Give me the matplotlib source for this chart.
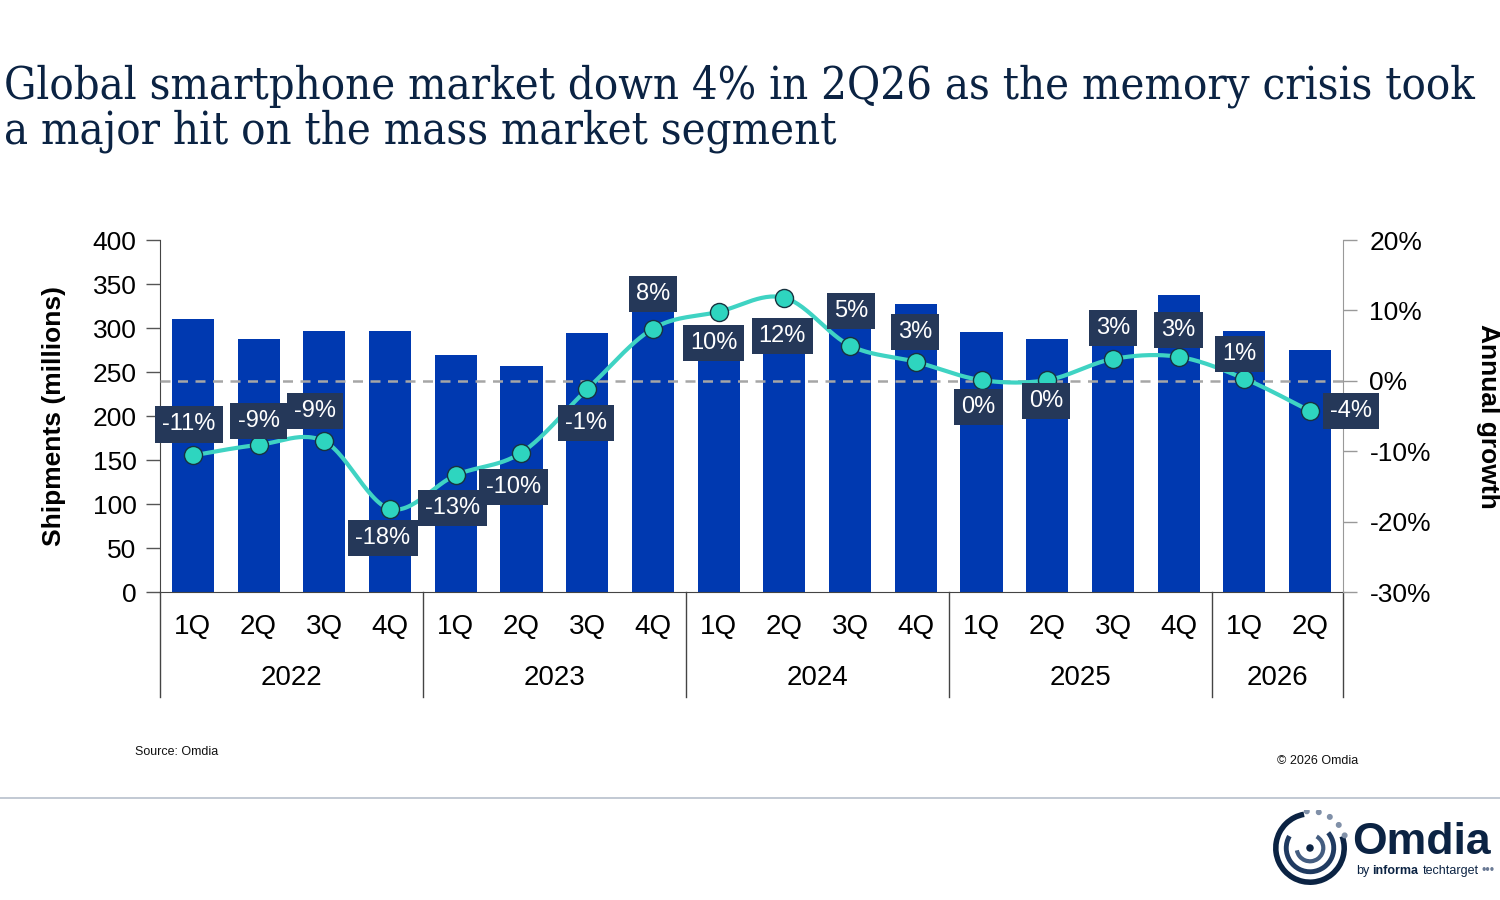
import numpy as np
import matplotlib
matplotlib.use("Agg")
import matplotlib.pyplot as plt
from matplotlib.patches import Arc, Circle
import matplotlib.transforms as mtransforms

# ---------------- data ----------------
quarters = ["1Q", "2Q", "3Q", "4Q"] * 4 + ["1Q", "2Q"]
years = ["2022", "2023", "2024", "2025", "2026"]
year_sizes = [4, 4, 4, 4, 2]
shipments = [310, 287, 297, 297, 269, 257, 294, 322, 295, 289, 310, 327, 295, 287, 316, 338, 297, 275]
growth = [-10.6, -9.1, -8.6, -18.2, -13.4, -10.2, -1.2, 7.4, 9.8, 11.8, 5.0, 2.7, 0.1, 0.1, 3.1, 3.4, 0.3, -4.3]
growth_labels = ["-11%", "-9%", "-9%", "-18%", "-13%", "-10%", "-1%", "8%", "10%", "12%",
                 "5%", "3%", "0%", "0%", "3%", "3%", "1%", "-4%"]

title = ("Global smartphone market down 4% in 2Q26 as the memory crisis took\n"
         "a major hit on the mass market segment")

# label offsets in pixels (style / placement)
label_offsets = [(-4, 31), (0, 24), (-9, 30), (-7, -29), (-3, -33), (-8, -34), (-1, -34), (0, 35),
                 (-5, -31), (-2, -38), (1, 35), (-1, 30), (-3, -27), (-1, -21), (0, 31), (0, 27),
                 (-5, 25), (41, 0)]

NAVY = "#0b2343"
BAR = "#0039b0"
LINE = "#3fd3c3"
BOX = "#253859"
SANS = ["Liberation Sans", "DejaVu Sans"]

fig = plt.figure(figsize=(15, 9), dpi=100)
fig.patch.set_facecolor("white")

L, R, T, B = 160, 1343, 240, 592
ax = fig.add_axes([L / 1500, 1 - B / 900, (R - L) / 1500, (B - T) / 900])
x = np.arange(len(shipments))
ax.bar(x, shipments, width=0.64, color=BAR, zorder=2)
ax.set_xlim(-0.5, len(shipments) - 0.5)
ax.set_ylim(0, 400)
ax.set_yticks(np.arange(0, 401, 50))
ax.tick_params(axis="y", length=10, width=1, color="#555555", labelsize=19, pad=7)
for lab in ax.get_yticklabels():
    lab.set_fontfamily(SANS)
ax.set_xticks(x)
ax.set_xticklabels(quarters, fontsize=20, fontfamily=SANS)
ax.tick_params(axis="x", length=0, pad=16)
for s in ["top", "right"]:
    ax.spines[s].set_visible(False)
ax.spines["left"].set_color("#444444")
ax.spines["bottom"].set_color("#444444")
ax.set_ylabel("Shipments (millions)", fontsize=19, fontweight="bold", fontfamily=SANS, labelpad=19)

# year labels and separators
trans = mtransforms.blended_transform_factory(ax.transData, ax.transAxes)
start = 0
sep_bottom = -(697 - B) / (B - T)
for yr, n in zip(years, year_sizes):
    ax.text(start - 0.5 + n / 2, -(678 - B) / (B - T), yr, transform=trans, ha="center", va="center",
            fontsize=20, fontfamily=SANS)
    ax.plot([start - 0.5, start - 0.5], [0, sep_bottom], transform=trans, color="#444444", lw=1, clip_on=False)
    start += n
ax.plot([start - 0.5, start - 0.5], [0, sep_bottom], transform=trans, color="#444444", lw=1, clip_on=False)

# right axis
ax2 = ax.twinx()
ax2.set_ylim(-30, 20)
ax2.set_yticks(np.arange(-30, 21, 10))
ax2.set_yticklabels([f"{v}%" for v in range(-30, 21, 10)])
ax2.tick_params(axis="y", length=10, width=1, color="#999999", labelsize=19, pad=9)
for lab in ax2.get_yticklabels():
    lab.set_fontfamily(SANS)
for s in ["top", "left", "bottom"]:
    ax2.spines[s].set_visible(False)
ax2.spines["right"].set_color("#999999")
ax2.set_ylabel("Annual growth", fontsize=19, fontweight="bold", fontfamily=SANS, rotation=-90, labelpad=50)
ax2.axhline(0, color="#a6a6a6", lw=1.8, ls=(0, (4, 3)), zorder=1)

# smoothed line (Catmull-Rom through the data points)
gx = np.asarray(x, float)
gy = np.asarray(growth, float)
px = np.concatenate([[gx[0]], gx, [gx[-1]]])
py = np.concatenate([[gy[0]], gy, [gy[-1]]])
cx, cy = [], []
tt = np.linspace(0, 1, 30)
for i in range(1, len(px) - 2):
    p0, p1, p2, p3 = [np.array([px[j], py[j]]) for j in (i - 1, i, i + 1, i + 2)]
    c1 = p1 + (p2 - p0) / 6
    c2 = p2 - (p3 - p1) / 6
    seg = ((1 - tt) ** 3)[:, None] * p1 + (3 * (1 - tt) ** 2 * tt)[:, None] * c1 + \
          (3 * (1 - tt) * tt ** 2)[:, None] * c2 + (tt ** 3)[:, None] * p2
    cx.extend(seg[:, 0]); cy.extend(seg[:, 1])
ax2.plot(cx, cy, color=LINE, lw=3, zorder=3, solid_capstyle="round")
ax2.plot(gx, gy, "o", ms=13, mfc="#2ed5bf", mec="#17323f", mew=1, zorder=4)

for xi, yi, lab, (dx, dy) in zip(gx, gy, growth_labels, label_offsets):
    ax2.annotate(lab, (xi, yi), xytext=(dx, dy), textcoords="offset pixels",
                 ha="center", va="center", fontsize=17, color="white", fontfamily=SANS, zorder=6,
                 bbox=dict(boxstyle="square,pad=0.3", fc=BOX, ec="none"))

# title
fig.text(0.003, 1 - 64 / 900, title, ha="left", va="top", fontsize=32.5, color=NAVY,
         fontfamily=["DejaVu Serif"], fontstretch="condensed", linespacing=1.05)

# footer
fig.text(135 / 1500, 1 - 752 / 900, "Source: Omdia", fontsize=9, fontfamily=SANS, va="center", color="#111111")
fig.text(1358 / 1500, 1 - 761 / 900, "© 2026 Omdia", fontsize=9, fontfamily=SANS, va="center", ha="right",
         color="#111111")
fig.add_artist(plt.Line2D([0, 1], [1 - 798 / 900, 1 - 798 / 900], color="#b8c0cc", lw=1.2))

# logo
fig.text(1352 / 1500, 1 - 842 / 900, "Omdia", fontsize=32, fontweight="bold", fontfamily=SANS,
         color=NAVY, va="center", ha="left")
fig.text(1356 / 1500, 1 - 871 / 900, "by", fontsize=9, fontfamily=SANS, color=NAVY, va="center")
fig.text(1372 / 1500, 1 - 871 / 900, "informa", fontsize=9, fontweight="bold", fontfamily=SANS, color=NAVY, va="center")
fig.text(1423 / 1500, 1 - 871 / 900, "techtarget", fontsize=9, fontfamily=SANS, color=NAVY, va="center")
fig.text(1482 / 1500, 1 - 871 / 900, "•••", fontsize=9, fontfamily=SANS, color="#6a7a95", va="center")
lax = fig.add_axes([1272 / 1500, 1 - 886 / 900, 76 / 1500, 76 / 900])
lax.set_xlim(-1, 1); lax.set_ylim(-1, 1); lax.set_aspect("equal"); lax.axis("off")
lax.add_patch(Arc((0, 0), 1.8, 1.8, theta1=100, theta2=380, lw=4, color=NAVY))
lax.add_patch(Arc((0, 0), 1.25, 1.25, theta1=150, theta2=400, lw=3.5, color="#1f3a60"))
lax.add_patch(Arc((0, 0), 0.7, 0.7, theta1=190, theta2=420, lw=3, color="#445d80"))
for ang in np.linspace(95, 20, 5):
    a = np.deg2rad(ang)
    lax.add_patch(Circle((0.97 * np.cos(a), 0.97 * np.sin(a)), 0.06, color="#8090a8"))
lax.add_patch(Circle((0, 0), 0.08, color=NAVY))

fig.savefig("out.png", dpi=100, facecolor="white")
